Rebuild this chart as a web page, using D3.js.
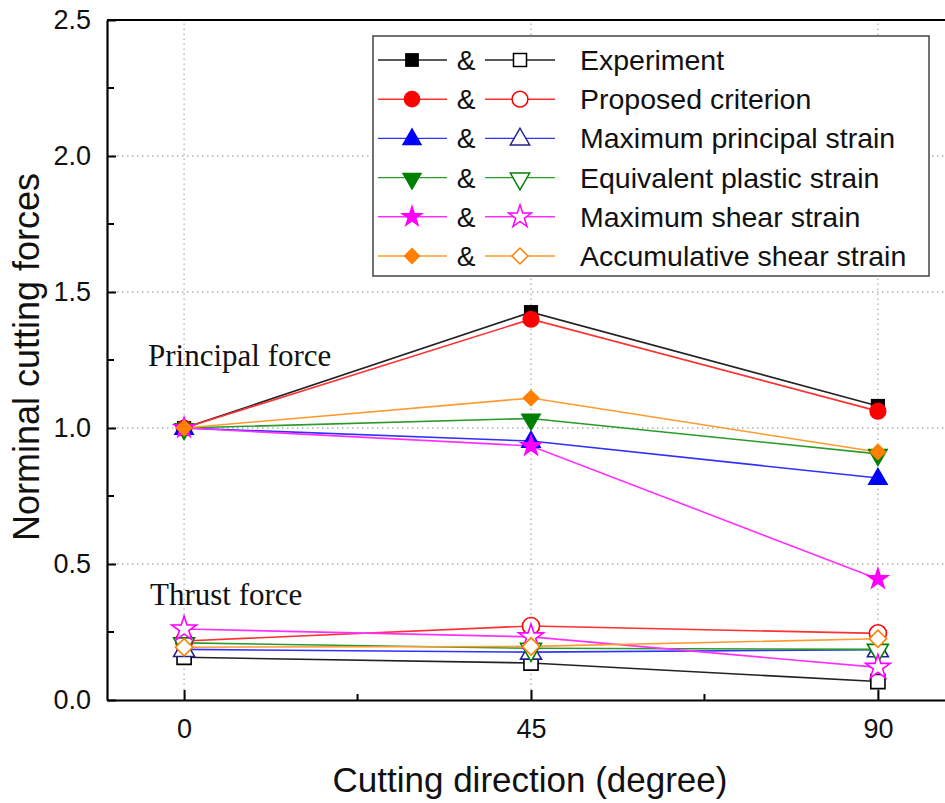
<!DOCTYPE html>
<html><head><meta charset="utf-8">
<script src="https://cdn.jsdelivr.net/npm/d3@7"></script>
<style>body{margin:0;background:#fff}svg{display:block}</style>
</head><body>
<script>
const angles = [0, 45, 90];
const seriesNames = ["Experiment","Proposed criterion","Maximum principal strain","Equivalent plastic strain","Maximum shear strain","Accumulative shear strain"];
const colors = ["#000000","#ff0000","#0000ff","#008000","#ff00ff","#ff8000"];
const openStroke = ["#000000","#ff0000","#22228f","#008000","#ff00ff","#ff8000"];
const lineColors = ["#222222","#ff3030","#3030ff","#2a9a2a","#ff30ff","#ff9a30"];
const shapes = ["square","circle","triangle","triangleDown","star","diamond"];
const principalExperiment = [1.0, 1.426, 1.081];
const principalProposed = [1.0, 1.40, 1.062];
const principalMaxPrincipal = [1.0, 0.952, 0.816];
const principalEquivPlastic = [1.0, 1.035, 0.905];
const principalMaxShear = [1.0, 0.934, 0.445];
const principalAccumShear = [1.0, 1.11, 0.912];
const thrustExperiment = [0.157, 0.136, 0.068];
const thrustProposed = [0.217, 0.272, 0.245];
const thrustMaxPrincipal = [0.186, 0.176, 0.185];
const thrustEquivPlastic = [0.21, 0.19, 0.186];
const thrustMaxShear = [0.261, 0.232, 0.12];
const thrustAccumShear = [0.194, 0.197, 0.225];
const principal = [principalExperiment, principalProposed, principalMaxPrincipal, principalEquivPlastic, principalMaxShear, principalAccumShear];
const thrust = [thrustExperiment, thrustProposed, thrustMaxPrincipal, thrustEquivPlastic, thrustMaxShear, thrustAccumShear];
const yTicks = [0, 0.5, 1.0, 1.5, 2.0, 2.5];
const yMinor = [0.25, 0.75, 1.25, 1.75, 2.25];
const xTicks = [0, 45, 90];
const xMinor = [22.5, 67.5];

const W = 945, H = 803;
const svg = d3.select("body").append("svg").attr("width", W).attr("height", H);
const x = d3.scaleLinear().domain([-10, 100]).range([107, 955]);
const y = d3.scaleLinear().domain([0, 2.5]).range([700, 20]);

// grid
const grid = svg.append("g").attr("stroke", "#b0b0b0").attr("stroke-width", 1.3).attr("stroke-dasharray", "1.5,3.5");
grid.selectAll("line.h").data(yTicks.filter(v => v > 0 && v < 2.5)).enter().append("line")
  .attr("x1", x(-10)).attr("x2", x(100)).attr("y1", d => y(d)).attr("y2", d => y(d));
grid.selectAll("line.v").data(xTicks).enter().append("line")
  .attr("x1", d => x(d)).attr("x2", d => x(d)).attr("y1", y(0)).attr("y2", y(2.5));

// frame
const font = "Arial, 'Liberation Sans', sans-serif";
const yAxis = d3.axisLeft(y).tickValues(yTicks).tickFormat(d3.format(".1f")).tickSizeInner(-9).tickSizeOuter(0).tickPadding(16);
const gy = svg.append("g").attr("transform", `translate(${x(-10)},0)`).call(yAxis);
gy.select(".domain").attr("stroke", "#000").attr("stroke-width", 2.2);
gy.selectAll(".tick line").attr("stroke-width", 2);
gy.selectAll(".tick text").attr("font-family", font).attr("font-size", 27).attr("fill", "#111");
gy.selectAll("line.minor").data(yMinor).enter().append("line").attr("class","minor")
  .attr("x1", 0).attr("x2", 7).attr("y1", d => y(d)).attr("y2", d => y(d)).attr("stroke", "#000").attr("stroke-width", 2);

const xAxis = d3.axisBottom(x).tickValues(xTicks).tickFormat(d3.format("d")).tickSizeInner(-10).tickSizeOuter(0).tickPadding(19);
const gx = svg.append("g").attr("transform", `translate(0,${y(0)})`).call(xAxis);
gx.select(".domain").attr("stroke", "#000").attr("stroke-width", 2.2);
gx.selectAll(".tick line").attr("stroke-width", 2);
gx.selectAll(".tick text").attr("font-family", font).attr("font-size", 27).attr("fill", "#111");
gx.selectAll("line.minor").data(xMinor).enter().append("line").attr("class","minor")
  .attr("x1", d => x(d)).attr("x2", d => x(d)).attr("y1", 0).attr("y2", -6).attr("stroke", "#000").attr("stroke-width", 2);
svg.append("line").attr("x1", x(-10)).attr("x2", x(100)).attr("y1", y(2.5)).attr("y2", y(2.5)).attr("stroke", "#000").attr("stroke-width", 2.2);

// symbols
function symbolPath(shape, s) {
  const types = {square: d3.symbolSquare, circle: d3.symbolCircle, triangle: d3.symbolTriangle, triangleDown: d3.symbolTriangle, star: d3.symbolStar, diamond: d3.symbolSquare};
  return d3.symbol().type(types[shape]).size(s)();
}
const sizes = {square: 200, circle: 230, triangle: 190, triangleDown: 190, star: 190, diamond: 150};
function transformFor(shape, px, py) {
  if (shape === "triangleDown") return `translate(${px},${py + 1}) rotate(180)`;
  if (shape === "triangle") return `translate(${px},${py + 1})`;
  if (shape === "diamond") return `translate(${px},${py}) rotate(45)`;
  return `translate(${px},${py})`;
}
const line = d3.line().x((d, i) => x(angles[i])).y(d => y(d));

principal.forEach((vals, k) => {
  svg.append("path").attr("d", line(vals)).attr("fill", "none").attr("stroke", lineColors[k]).attr("stroke-width", 1.6);
});
thrust.forEach((vals, k) => {
  svg.append("path").attr("d", line(vals)).attr("fill", "none").attr("stroke", lineColors[k]).attr("stroke-width", 1.6);
});
principal.forEach((vals, k) => {
  svg.append("g").selectAll("path").data(vals).enter().append("path")
    .attr("d", symbolPath(shapes[k], sizes[shapes[k]]))
    .attr("transform", (d, i) => transformFor(shapes[k], x(angles[i]), y(d)))
    .attr("fill", colors[k]);
});
thrust.forEach((vals, k) => {
  svg.append("g").selectAll("path").data(vals).enter().append("path")
    .attr("d", symbolPath(shapes[k], sizes[shapes[k]]))
    .attr("transform", (d, i) => transformFor(shapes[k], x(angles[i]), y(d)))
    .attr("fill", "#fff").attr("stroke", openStroke[k]).attr("stroke-width", 1.6);
});

// annotations
const serif = "'Liberation Serif', 'Times New Roman', serif";
svg.append("text").attr("x", 148).attr("y", 366).text("Principal force")
  .attr("font-family", serif).attr("font-size", 31).attr("fill", "#111");
svg.append("text").attr("x", 150).attr("y", 605).text("Thrust force")
  .attr("font-family", serif).attr("font-size", 31).attr("fill", "#111");

// axis titles
svg.append("text").attr("transform", `translate(39,357) rotate(-90)`).attr("text-anchor", "middle")
  .attr("font-family", font).attr("font-size", 36).attr("fill", "#111").text("Norminal cutting forces");
svg.append("text").attr("x", 530).attr("y", 792).attr("text-anchor", "middle")
  .attr("font-family", font).attr("font-size", 35).attr("fill", "#111").text("Cutting direction (degree)");

// legend
const lg = svg.append("g");
lg.append("rect").attr("x", 373).attr("y", 36).attr("width", 556).attr("height", 240)
  .attr("fill", "#fff").attr("stroke", "#444").attr("stroke-width", 1.5);
seriesNames.forEach((name, k) => {
  const ry = 60 + k * 39.2;
  const row = lg.append("g");
  row.append("line").attr("x1", 378).attr("x2", 447).attr("y1", ry).attr("y2", ry).attr("stroke", lineColors[k]).attr("stroke-width", 1.4);
  row.append("path").attr("d", symbolPath(shapes[k], sizes[shapes[k]] * 0.95)).attr("transform", transformFor(shapes[k], 412, ry)).attr("fill", colors[k]);
  row.append("text").attr("x", 466).attr("y", ry + 10).attr("text-anchor", "middle").attr("font-family", font).attr("font-size", 28).attr("fill", "#111").text("&");
  row.append("line").attr("x1", 485).attr("x2", 555).attr("y1", ry).attr("y2", ry).attr("stroke", lineColors[k]).attr("stroke-width", 1.4);
  row.append("path").attr("d", symbolPath(shapes[k], sizes[shapes[k]] * 0.85)).attr("transform", transformFor(shapes[k], 520, ry))
    .attr("fill", "#fff").attr("stroke", openStroke[k]).attr("stroke-width", 1.5);
  row.append("text").attr("x", 580).attr("y", ry + 10).attr("font-family", font).attr("font-size", 28.5).attr("fill", "#111").text(name);
});
</script>
</body></html>
